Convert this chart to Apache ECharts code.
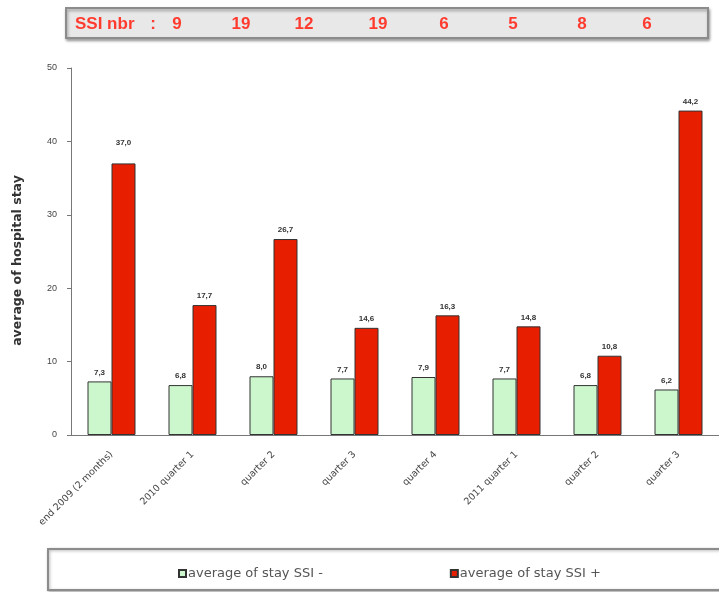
<!DOCTYPE html>
<html>
<head>
<meta charset="utf-8">
<script src="https://cdn.jsdelivr.net/npm/echarts@6/dist/echarts.min.js"></script>
<style>
  html, body { margin: 0; padding: 0; background: #fff; }
  #main { width: 719px; height: 592px; }
</style>
</head>
<body>
<div id="main"></div>
<script>
  // categories and values
  var categories = ['end 2009 (2 months)', '2010 quarter 1', 'quarter 2', 'quarter 3',
                    'quarter 4', '2011 quarter 1', 'quarter 2', 'quarter 3'];
  var staySsiMinus = [7.3, 6.8, 8.0, 7.7, 7.9, 7.7, 6.8, 6.2];
  var staySsiPlus = [37.0, 17.7, 26.7, 14.6, 16.3, 14.8, 10.8, 44.2];
  var ssiNbr = [9, 19, 12, 19, 6, 5, 8, 6];
  var seriesNames = ['average of stay SSI -', 'average of stay SSI +'];

  var myChart = echarts.init(document.getElementById('main'));

  function fmt(p) {
    return p.value.toFixed(1).replace('.', ',');
  }

  // x centres of the numbers in the top box
  var nbrX = [177, 241, 304, 378, 444, 513, 582, 647];
  var redFont = 'bold 17px Arial';
  var topTexts = [
    { type: 'text', x: 75, y: 24, style: { text: 'SSI nbr', fill: '#ff3b2f', font: redFont, verticalAlign: 'middle' } },
    { type: 'text', x: 153, y: 24, style: { text: ':', fill: '#ff3b2f', font: redFont, align: 'center', verticalAlign: 'middle' } }
  ];
  ssiNbr.forEach(function (n, i) {
    topTexts.push({
      type: 'text', x: nbrX[i], y: 24,
      style: { text: String(n), fill: '#ff3b2f', font: redFont, align: 'center', verticalAlign: 'middle' }
    });
  });

  var option = {
    animation: false,
    textStyle: { fontFamily: 'Arial' },
    grid: { left: 71, top: 68, width: 660, height: 367 },
    graphic: [
      {
        type: 'rect', shape: { x: 66, y: 8, width: 642, height: 30 },
        style: { fill: '#e8e8e8', stroke: '#8c8c8c', lineWidth: 2,
                 shadowBlur: 3, shadowOffsetX: 1, shadowOffsetY: 2, shadowColor: 'rgba(0,0,0,0.35)' }
      },
      {
        type: 'rect', shape: { x: 48, y: 549, width: 700, height: 41 },
        style: { fill: '#fff', stroke: '#8c8c8c', lineWidth: 2,
                 shadowBlur: 3, shadowOffsetX: 1, shadowOffsetY: 1, shadowColor: 'rgba(0,0,0,0.3)' }
      }
    ].concat(topTexts),
    legend: {
      left: 173, top: 562,
      itemWidth: 7, itemHeight: 7, itemGap: 127,
      icon: 'rect',
      textStyle: { fontSize: 13, fontFamily: 'DejaVu Sans', color: '#555', width: 140, padding: [0, 0, 0, -3] },
      data: seriesNames
    },
    xAxis: {
      type: 'category',
      data: categories,
      axisLine: { lineStyle: { color: '#777' } },
      axisTick: { length: 3, lineStyle: { color: '#777' } },
      axisLabel: { rotate: 45, fontSize: 9.5, fontFamily: 'DejaVu Sans', color: '#444', margin: 18 }
    },
    yAxis: {
      type: 'value',
      min: 0, max: 50, interval: 10,
      name: 'average of hospital stay',
      nameLocation: 'middle',
      nameGap: 47,
      nameTextStyle: { fontSize: 12.5, fontFamily: 'DejaVu Sans', color: '#333', fontWeight: 'bold', padding: [0, 18, 0, 0] },
      splitLine: { show: false },
      axisLine: { show: true, lineStyle: { color: '#777' } },
      axisTick: { show: true, length: 4, lineStyle: { color: '#777' } },
      axisLabel: { fontSize: 9, color: '#444', margin: 14 }
    },
    series: [
      {
        name: seriesNames[0],
        type: 'bar',
        barWidth: 24,
        barGap: '0%',
        itemStyle: { color: '#ccf7cc', borderColor: '#333', borderWidth: 1 },
        label: { show: true, position: 'top', distance: 5, fontSize: 8, fontWeight: 'bold', color: '#333', formatter: fmt },
        data: staySsiMinus
      },
      {
        name: seriesNames[1],
        type: 'bar',
        barWidth: 24,
        itemStyle: { color: '#e81e00', borderColor: '#333', borderWidth: 1 },
        label: { show: true, position: 'top', distance: 5, fontSize: 8, fontWeight: 'bold', color: '#333', formatter: fmt },
        data: staySsiPlus.map(function (v, i) {
          return i === 0 ? { value: v, label: { distance: 17 } } : v;
        })
      }
    ]
  };
  myChart.setOption(option);
</script>
</body>
</html>
